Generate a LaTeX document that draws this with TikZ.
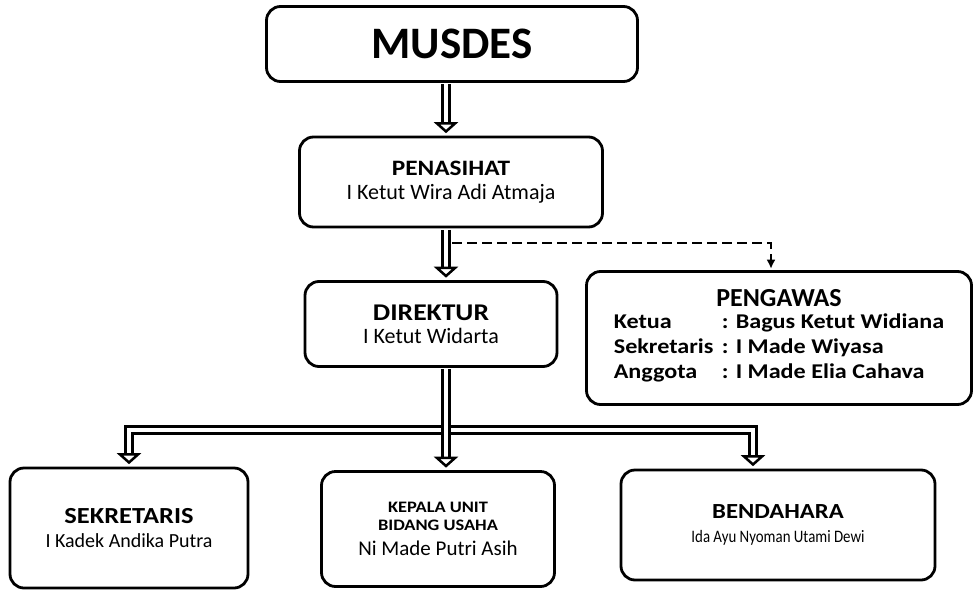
\documentclass[tikz,border=0pt]{standalone}
\usepackage{fontspec}
\setmainfont{Carlito}
\newfontfamily\hfont{Carlito}[FakeStretch=1.15]
\newfontfamily\nfont{Carlito}[FakeStretch=0.85]
\newcommand{\hd}{\hfont\bfseries}
\usetikzlibrary{arrows.meta,positioning}
\tikzset{box/.style={draw,line width=2.8pt,rounded corners=14pt,align=center,inner sep=0pt}}
\tikzset{dbl/.style={double,double distance=4pt,line width=3pt,shorten <=1.4pt,shorten >=2.4pt,-{Triangle[fill=white,line width=2.5pt,width=24pt,length=11pt]}}}
\tikzset{link/.style={line width=2.5pt,dash pattern=on 10pt off 5pt,shorten >=1.4pt,-{Latex[length=9pt,width=9pt]}}}

\begin{document}
\begin{tikzpicture}[x=1pt,y=-1pt]
  \useasboundingbox (0,0) rectangle (975,592);
  \node[box,minimum width=371pt,minimum height=75pt,font=\bfseries\fontsize{45}{48}\selectfont] (musdes) at (452,44) {MUSDES};
  \node[box,minimum width=303pt,minimum height=90pt,font=\fontsize{22}{24}\selectfont] (penasihat) at (451,182)
    {{\hd\fontsize{22}{24}\selectfont PENASIHAT}\\I Ketut Wira Adi Atmaja};
  \node[box,minimum width=252pt,minimum height=85pt,font=\fontsize{22}{23}\selectfont] (direktur) at (431,324)
    {{\hd\fontsize{24}{23}\selectfont DIREKTUR}\\I Ketut Widarta};
  \node[box,minimum width=385pt,minimum height=133pt,font=\hd\fontsize{21}{25}\selectfont] (pengawas) at (779,338)
    {{\rmfamily\bfseries\fontsize{26}{25}\selectfont PENGAWAS}\\[3pt]
     \begin{tabular}{@{}p{108pt}@{}l@{}}
       Ketua & : Bagus Ketut Widiana\\
       Sekretaris & : I Made Wiyasa\\
       Anggota & : I Made Elia Cahava
     \end{tabular}};
  \node[box,minimum width=238pt,minimum height=120pt,font=\fontsize{20}{24}\selectfont] (sekretaris) at (129,528)
    {{\hd\fontsize{23}{24}\selectfont SEKRETARIS}\\I Kadek Andika Putra};
  \node[box,minimum width=233pt,minimum height=115pt,font=\fontsize{21}{18}\selectfont] (kepala) at (438,529)
    {{\hd\fontsize{16}{18}\selectfont KEPALA UNIT}\\{\hd\fontsize{16}{18}\selectfont BIDANG USAHA}\\[7pt]Ni Made Putri Asih};
  \node[box,minimum width=314pt,minimum height=110pt,font=\nfont\fontsize{17.5}{24}\selectfont] (bendahara) at (778,525)
    {{\hd\fontsize{21.5}{24}\selectfont BENDAHARA}\\Ida Ayu Nyoman Utami Dewi};
  \coordinate (spine) at (446,0);
  \coordinate (bar) at (446,430);
  \coordinate (tap) at (452,243);
  \draw[dbl] (musdes.south -| spine) -- (penasihat.north -| spine);
  \draw[dbl] (penasihat.south -| spine) -- (direktur.north -| spine);
  \draw[link] (tap) -| ([xshift=-8pt]pengawas.north);
  \draw[dbl] (bar) -| (sekretaris.north);
  \draw[dbl] (bar) -| ([xshift=-25pt]bendahara.north);
  \draw[dbl] (direktur.south -| spine) -- (kepala.north -| spine);
\end{tikzpicture}
\end{document}
